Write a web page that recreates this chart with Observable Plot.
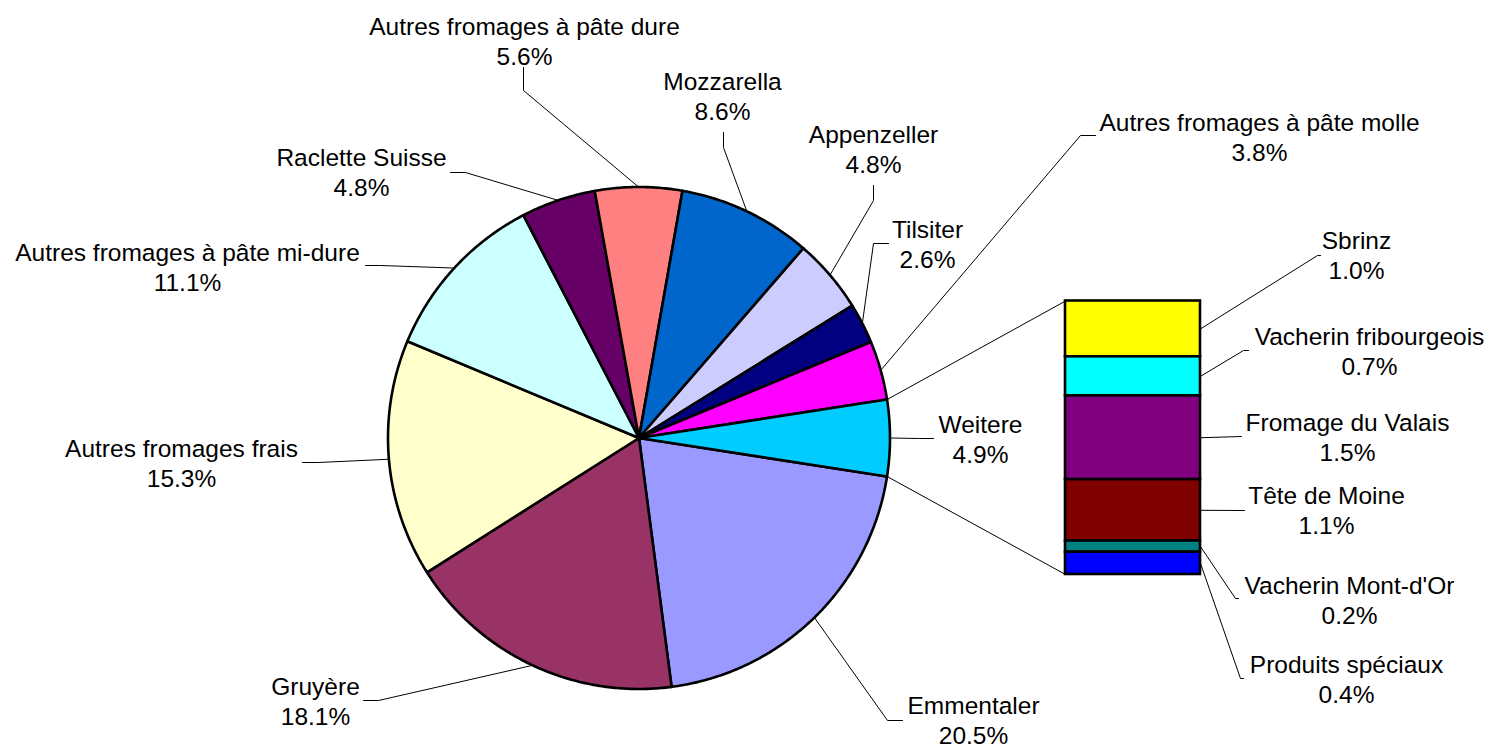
<!DOCTYPE html>
<html><head><meta charset="utf-8">
<script src="https://cdn.jsdelivr.net/npm/d3@7"></script>
<script src="https://cdn.jsdelivr.net/npm/@observablehq/plot@0.6"></script>
<style>body{margin:0;background:#fff}</style>
</head><body><div id="chart"></div>
<script>
// ---- data ----
const pieNames = ["Emmentaler","Gruyère","Autres fromages frais","Autres fromages à pâte mi-dure","Raclette Suisse","Autres fromages à pâte dure","Mozzarella","Appenzeller","Tilsiter","Autres fromages à pâte molle","Weitere"];
const pieValues = [20.5,18.1,15.3,11.1,4.8,5.6,8.6,4.8,2.6,3.8,4.9];
const pieColors = ["#9999FF","#993366","#FFFFCC","#CCFFFF","#660066","#FF8080","#0066CC","#CCCCFF","#000080","#FF00FF","#00CCFF"];
const barNames = ["Sbrinz","Vacherin fribourgeois","Fromage du Valais","Tête de Moine","Vacherin Mont-d'Or","Produits spéciaux"];
const barValues = [1.0,0.7,1.5,1.1,0.2,0.4];
const barColors = ["#FFFF00","#00FFFF","#800080","#800000","#008080","#0000FF"];

// ---- layout ----
const W = 1490, H = 745, cx = 638.5, cy = 437.5, R = 251;
const barBox = {x1: 1065, x2: 1200, top: 300.5, bottom: 574};
const pieLabelLayout = {
  "Emmentaler": {lx: 973, ly: 719, path: [[887,720],[902,720]]},
  "Gruyère": {lx: 315, ly: 700, path: [[378,700],[363,700]]},
  "Autres fromages frais": {lx: 181, ly: 462, path: [[318,462],[302,462]]},
  "Autres fromages à pâte mi-dure": {lx: 187, ly: 266, path: [[380,265],[365,265]]},
  "Raclette Suisse": {lx: 361, ly: 171, path: [[465,172],[450,172]]},
  "Autres fromages à pâte dure": {lx: 524, ly: 40, path: [[523,90],[523,67]]},
  "Mozzarella": {lx: 722, ly: 95, path: [[723,147],[723,132]]},
  "Appenzeller": {lx: 873, ly: 148, path: [[873,200],[873,185]]},
  "Tilsiter": {lx: 927, ly: 243, path: [[873,243],[888,243]]},
  "Autres fromages à pâte molle": {lx: 1259, ly: 136, path: [[1080,135],[1095,135]]},
  "Weitere": {lx: 980, ly: 438, path: [[918,438],[933,438]]}
};
const barLabelLayout = {
  "Sbrinz": {lx: 1356, ly: 254, path: [[1317,255],[1320,255]]},
  "Vacherin fribourgeois": {lx: 1369, ly: 350, path: [[1243,350],[1248,350]]},
  "Fromage du Valais": {lx: 1347, ly: 436, path: [[1241,436]]},
  "Tête de Moine": {lx: 1326, ly: 509, path: [[1244,510]]},
  "Vacherin Mont-d'Or": {lx: 1349, ly: 599, path: [[1235,598],[1238,598]]},
  "Produits spéciaux": {lx: 1346, ly: 678, path: [[1240,678],[1243,678]]}
};

// ---- geometry from data ----
const total = d3.sum(pieValues);
const rad = Math.PI / 180;
const weitereSpan = pieValues[pieValues.length - 1] / total * 360;
let a = 90 + weitereSpan / 2; // "Weitere" slice centred at 3 o'clock
const pt = (deg, r) => [cx + r * Math.sin(deg * rad), cy - r * Math.cos(deg * rad)];
const slices = pieNames.map((name, i) => {
  const span = pieValues[i] / total * 360;
  const s = {name, value: pieValues[i], color: pieColors[i], a0: a, a1: a + span, mid: a + span / 2};
  a += span;
  return s;
});
const slicePts = [];
for (const s of slices) {
  slicePts.push({name: s.name, color: s.color, x: cx, y: cy});
  const n = Math.max(2, Math.ceil((s.a1 - s.a0) / 0.5));
  for (let k = 0; k <= n; k++) {
    const [x, y] = pt(s.a0 + (s.a1 - s.a0) * k / n, R);
    slicePts.push({name: s.name, color: s.color, x, y});
  }
}
const fmt = v => d3.format(".1f")(v) + "%";

const barTotal = d3.sum(barValues);
const by = d3.scaleLinear().domain([0, barTotal]).range([barBox.top, barBox.bottom]);
let c = 0;
const barData = barNames.map((name, i) => {
  const d = {name, value: barValues[i], color: barColors[i], v0: c, v1: c + barValues[i]};
  c += barValues[i];
  return d;
});

const leaders = [];
for (const s of slices) {
  const L = pieLabelLayout[s.name];
  const [x0, y0] = pt(s.mid, R);
  leaders.push({name: s.name, x: x0, y: y0});
  for (const [x, y] of L.path) leaders.push({name: s.name, x, y});
}
for (const d of barData) {
  const L = barLabelLayout[d.name];
  leaders.push({name: d.name, x: barBox.x2, y: by((d.v0 + d.v1) / 2)});
  for (const [x, y] of L.path) leaders.push({name: d.name, x, y});
}
const weitere = slices[slices.length - 1];
const connectors = [
  {p: pt(weitere.a0, R), q: [barBox.x1, by(0)]},
  {p: pt(weitere.a1, R), q: [barBox.x1, by(barTotal)]}
];
const labels = [
  ...slices.map(s => ({text: s.name + "\n" + fmt(s.value), x: pieLabelLayout[s.name].lx, y: pieLabelLayout[s.name].ly})),
  ...barData.map(d => ({text: d.name + "\n" + fmt(d.value), x: barLabelLayout[d.name].lx, y: barLabelLayout[d.name].ly}))
];

const chart = Plot.plot({
  width: W, height: H,
  margin: 0,
  x: {domain: [0, W], range: [0, W], axis: null},
  y: {domain: [0, H], range: [0, H], axis: null},
  color: {type: "identity"},
  style: {background: "#fff", fontFamily: "'Liberation Sans', Arial, sans-serif"},
  marks: [
    Plot.line(leaders, {x: "x", y: "y", z: "name", stroke: "#000", strokeWidth: 1}),
    Plot.link(connectors, {x1: d => d.p[0], y1: d => d.p[1], x2: d => d.q[0], y2: d => d.q[1], stroke: "#000", strokeWidth: 1}),
    Plot.line(slicePts, {x: "x", y: "y", z: "name", fill: "color", stroke: "#000", strokeWidth: 2.6, curve: "linear-closed", strokeLinejoin: "round"}),
    Plot.rect(barData, {x1: () => barBox.x1, x2: () => barBox.x2, y1: d => by(d.v0), y2: d => by(d.v1), fill: "color", stroke: "#000", strokeWidth: 2.6}),
    Plot.text(labels, {x: "x", y: "y", text: "text", fontSize: 24.5, lineHeight: 1.23, fill: "#000", textAnchor: "middle"})
  ]
});
document.getElementById("chart").appendChild(chart);
</script>
</body></html>
